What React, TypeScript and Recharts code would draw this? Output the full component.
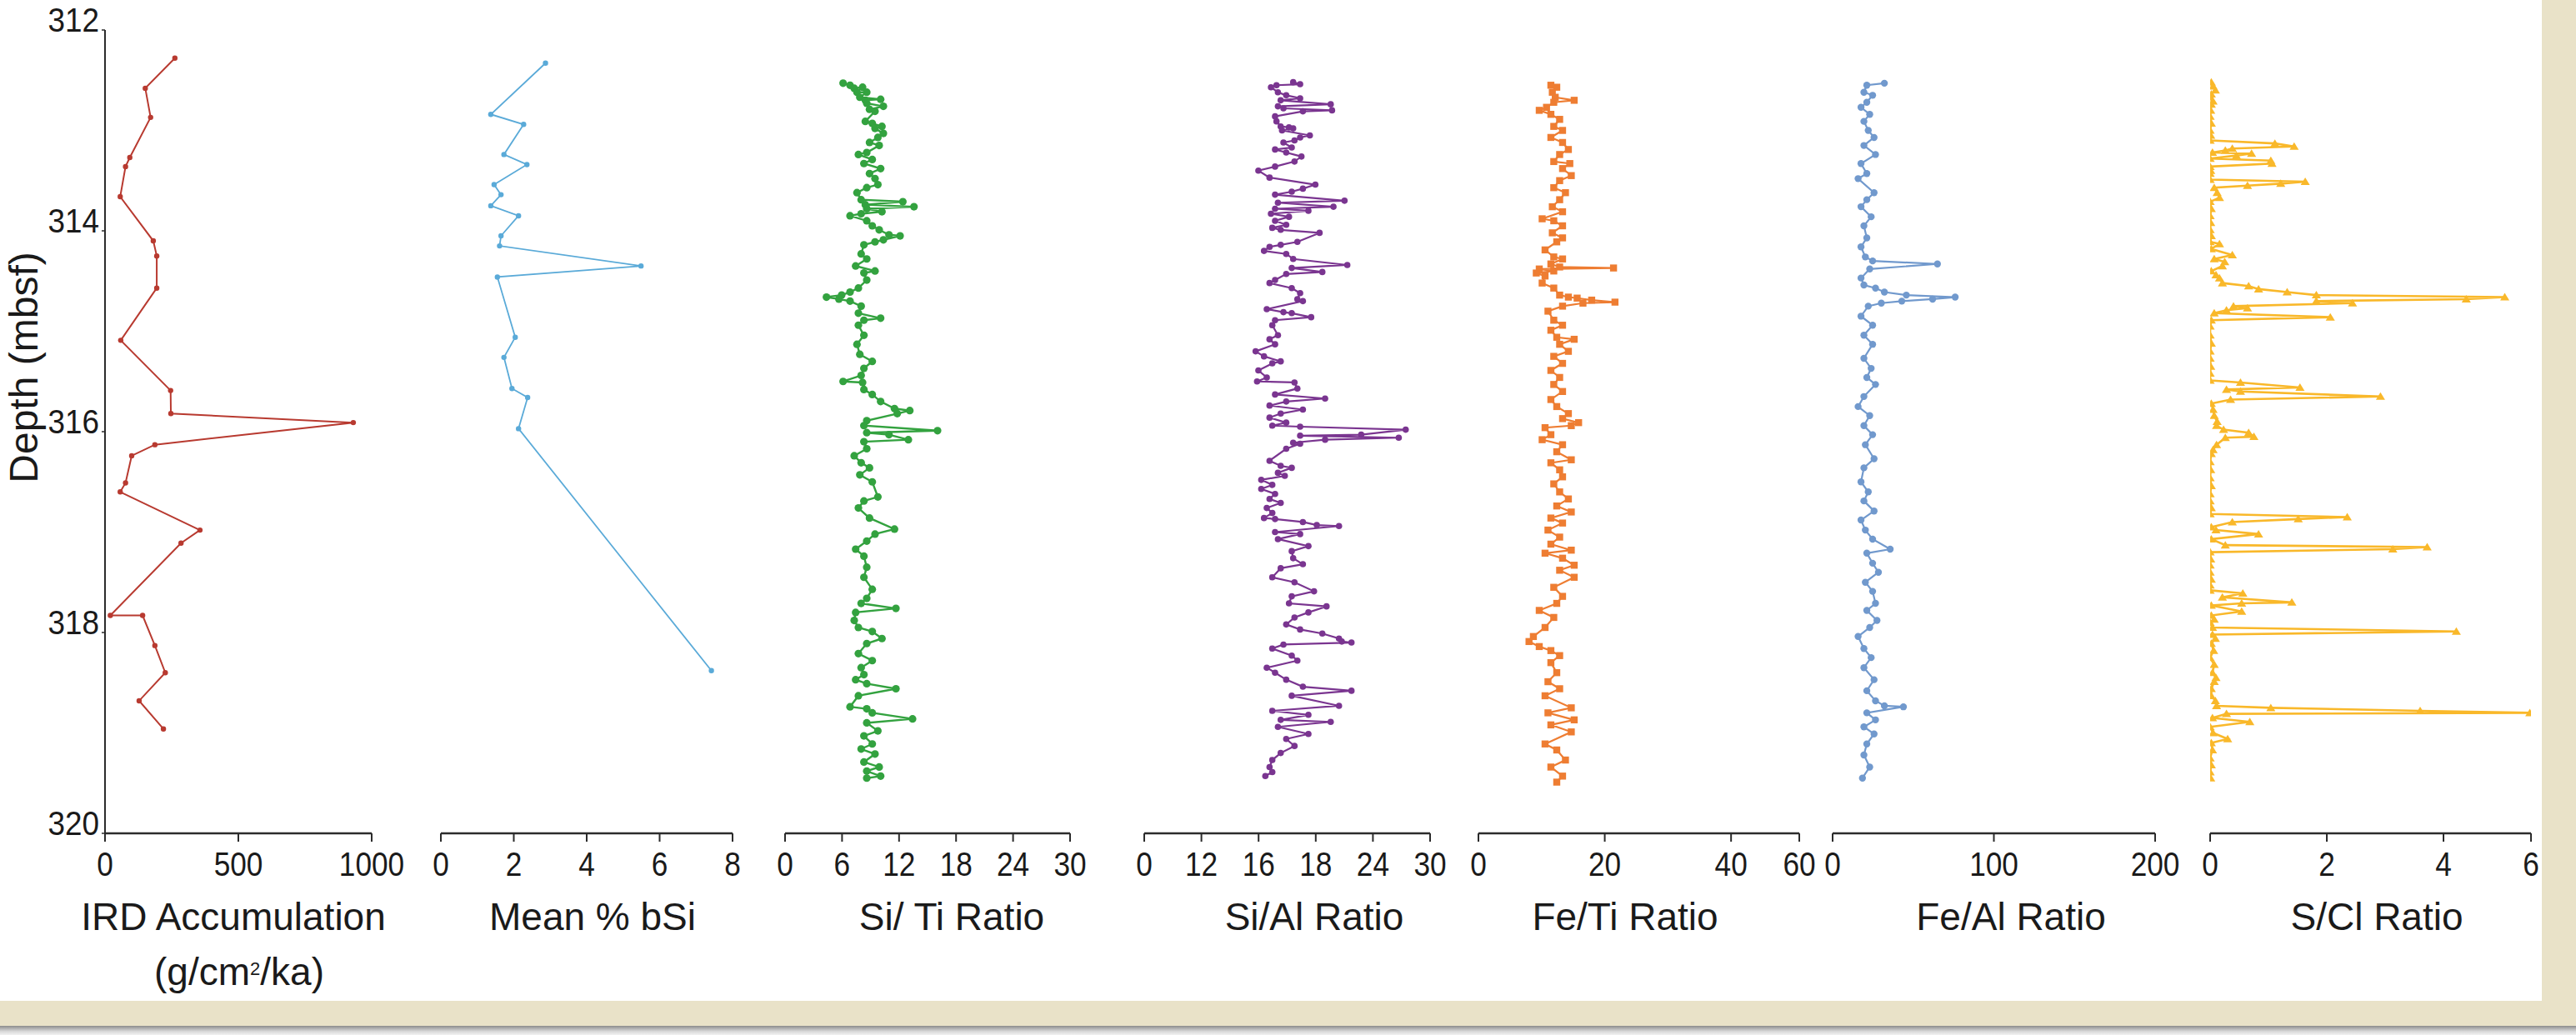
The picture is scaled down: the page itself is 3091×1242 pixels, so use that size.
import React from 'react';
import { ScatterChart, Scatter, XAxis, YAxis } from 'recharts';

// depth axis (mbsf), drawn top to bottom
const depthDomain = [312, 320];
const depthTicks = [312, 314, 316, 318, 320];

// [depth, value] pairs
const ird: [number, number][] = [
  [312.28, 262], [312.58, 151], [312.87, 171], [313.27, 93], [313.36, 77], [313.66, 57],
  [314.1, 181], [314.25, 194], [314.57, 194], [315.09, 59], [315.59, 246], [315.82, 247],
  [315.91, 931], [316.13, 187], [316.24, 100], [316.51, 77], [316.6, 57], [316.98, 356],
  [317.11, 285], [317.83, 20], [317.83, 141], [318.13, 187], [318.4, 226], [318.68, 128],
  [318.96, 219],
];

const bsi: [number, number][] = [
  [312.33, 2.87], [312.84, 1.37], [312.94, 2.27], [313.24, 1.73], [313.34, 2.36], [313.54, 1.46],
  [313.64, 1.65], [313.75, 1.37], [313.85, 2.13], [314.05, 1.65], [314.15, 1.61], [314.35, 5.49],
  [314.46, 1.55], [315.06, 2.04], [315.26, 1.73], [315.57, 1.95], [315.66, 2.38], [315.97, 2.13],
  [318.38, 7.42],
];

const siTi: [number, number][] = [
  [312.53, 6.11], [312.55, 6.84], [312.58, 7.28], [312.57, 8.16], [312.62, 7.57], [312.62, 8.6],
  [312.67, 7.87], [312.69, 10.06], [312.7, 8.45], [312.73, 8.6], [312.76, 10.35], [312.79, 8.89],
  [312.81, 9.47], [312.91, 8.45], [312.93, 9.18], [312.96, 10.2], [312.98, 9.47], [313.03, 10.35],
  [313.07, 9.77], [313.12, 8.89], [313.15, 9.91], [313.22, 8.6], [313.24, 7.72], [313.29, 9.18],
  [313.33, 8.3], [313.38, 10.06], [313.43, 8.89], [313.48, 9.47], [313.54, 9.77], [313.57, 8.6],
  [313.62, 7.57], [313.69, 8.01], [313.71, 12.4], [313.74, 8.45], [313.76, 13.57], [313.78, 8.6],
  [313.81, 10.2], [313.83, 8.01], [313.85, 6.84], [313.9, 8.6], [313.95, 9.18], [313.99, 9.91],
  [314.04, 10.94], [314.05, 12.11], [314.09, 10.35], [314.11, 9.47], [314.14, 8.3], [314.23, 8.01],
  [314.28, 8.6], [314.35, 7.43], [314.4, 9.47], [314.42, 8.3], [314.49, 8.6], [314.57, 7.72],
  [314.61, 6.84], [314.64, 5.96], [314.66, 4.36], [314.68, 5.67], [314.7, 6.84], [314.75, 8.01],
  [314.82, 7.72], [314.87, 10.06], [314.89, 8.3], [314.94, 7.72], [315.04, 8.3], [315.13, 7.57],
  [315.23, 7.87], [315.3, 9.18], [315.37, 8.3], [315.44, 8.01], [315.5, 6.11], [315.51, 8.16],
  [315.58, 8.3], [315.63, 9.18], [315.7, 10.06], [315.77, 11.52], [315.79, 13.13], [315.82, 11.81],
  [315.89, 8.6], [315.94, 8.3], [315.99, 16.05], [316.01, 8.6], [316.03, 10.94], [316.08, 12.98],
  [316.1, 8.3], [316.17, 8.6], [316.24, 7.28], [316.31, 8.01], [316.36, 8.89], [316.43, 7.87],
  [316.5, 9.18], [316.65, 9.77], [316.69, 8.3], [316.76, 7.72], [316.86, 8.89], [316.97, 11.52],
  [317.02, 9.47], [317.09, 8.6], [317.17, 7.43], [317.24, 8.3], [317.35, 8.6], [317.45, 8.3],
  [317.57, 9.18], [317.66, 8.6], [317.71, 8.01], [317.76, 11.67], [317.8, 7.43], [317.88, 7.28],
  [317.95, 7.72], [317.99, 9.18], [318.06, 10.2], [318.11, 8.6], [318.21, 7.72], [318.28, 9.18],
  [318.35, 8.01], [318.42, 8.3], [318.47, 7.43], [318.51, 8.6], [318.56, 11.67], [318.63, 7.72],
  [318.74, 6.84], [318.76, 8.6], [318.8, 9.18], [318.86, 13.42], [318.9, 8.6], [318.98, 9.77],
  [319.03, 8.3], [319.11, 9.18], [319.16, 8.01], [319.21, 9.47], [319.29, 8.3], [319.34, 9.91],
  [319.38, 8.6], [319.43, 10.06], [319.45, 8.6],
];

const siAl: [number, number][] = [
  [312.52, 15.63], [312.54, 16.36], [312.55, 13.88], [312.57, 13.3], [312.62, 14.03], [312.65, 14.9],
  [312.68, 16.36], [312.7, 14.32], [312.74, 19.57], [312.76, 14.03], [312.78, 14.61], [312.8, 19.71],
  [312.81, 16.65], [312.86, 13.73], [312.91, 13.88], [312.96, 14.32], [312.97, 15.19], [312.98, 15.63],
  [313.0, 14.46], [313.05, 17.38], [313.07, 16.36], [313.1, 15.77], [313.12, 14.61], [313.17, 15.48],
  [313.19, 13.73], [313.22, 14.9], [313.26, 16.5], [313.31, 15.77], [313.36, 13.73], [313.4, 11.98],
  [313.47, 13.15], [313.54, 17.96], [313.58, 16.65], [313.61, 15.48], [313.64, 13.73], [313.7, 21.02],
  [313.72, 14.03], [313.76, 19.86], [313.78, 13.73], [313.8, 17.23], [313.83, 13.3], [313.86, 15.19],
  [313.9, 13.73], [313.94, 14.9], [313.97, 13.44], [313.99, 14.32], [314.02, 18.4], [314.11, 16.07],
  [314.14, 14.32], [314.16, 13.15], [314.2, 12.57], [314.23, 14.9], [314.28, 15.63], [314.34, 21.31],
  [314.37, 15.48], [314.41, 18.69], [314.43, 14.9], [314.49, 13.73], [314.52, 13.15], [314.57, 15.48],
  [314.62, 16.36], [314.68, 16.07], [314.7, 16.65], [314.78, 12.86], [314.81, 14.61], [314.82, 15.48],
  [314.86, 17.52], [314.89, 13.73], [314.94, 13.44], [315.04, 14.03], [315.08, 13.15], [315.13, 13.73],
  [315.2, 11.69], [315.25, 12.57], [315.3, 14.32], [315.32, 13.44], [315.39, 11.98], [315.46, 12.86],
  [315.5, 11.84], [315.51, 15.77], [315.57, 16.07], [315.63, 13.73], [315.67, 18.98], [315.7, 14.9],
  [315.74, 13.15], [315.78, 16.65], [315.82, 14.32], [315.86, 13.15], [315.91, 14.9], [315.94, 13.44],
  [315.95, 16.36], [315.98, 27.44], [316.03, 22.77], [316.04, 16.36], [316.06, 26.71], [316.08, 18.98],
  [316.11, 15.63], [316.12, 16.36], [316.17, 14.9], [316.29, 13.15], [316.34, 14.32], [316.36, 15.48],
  [316.41, 14.03], [316.44, 14.75], [316.48, 12.28], [316.53, 13.44], [316.57, 12.28], [316.62, 13.73],
  [316.67, 13.15], [316.71, 14.32], [316.76, 12.86], [316.81, 13.44], [316.86, 12.57], [316.87, 13.73],
  [316.9, 16.65], [316.93, 18.11], [316.94, 20.44], [317.0, 13.73], [317.02, 16.36], [317.07, 14.03],
  [317.14, 17.23], [317.19, 15.48], [317.26, 15.63], [317.32, 16.65], [317.36, 14.32], [317.45, 13.44],
  [317.5, 15.77], [317.59, 17.82], [317.64, 15.48], [317.71, 15.19], [317.74, 19.13], [317.8, 17.23],
  [317.85, 15.77], [317.92, 14.9], [317.97, 16.36], [318.01, 18.69], [318.06, 20.44], [318.09, 20.73],
  [318.1, 21.75], [318.12, 14.61], [318.16, 13.44], [318.23, 15.48], [318.28, 16.07], [318.35, 12.86],
  [318.4, 13.73], [318.47, 14.9], [318.54, 16.65], [318.58, 21.75], [318.63, 15.48], [318.73, 20.44],
  [318.78, 13.44], [318.82, 17.23], [318.87, 14.32], [318.89, 19.57], [318.94, 14.03], [319.01, 17.23],
  [319.06, 14.9], [319.13, 15.77], [319.2, 14.32], [319.27, 13.44], [319.34, 13.15], [319.39, 13.44],
  [319.43, 12.71],
];

const feTi: [number, number][] = [
  [312.55, 11.47], [312.57, 12.4], [312.62, 11.7], [312.67, 12.16], [312.7, 15.16], [312.72, 11.93],
  [312.77, 10.78], [312.8, 9.63], [312.84, 11.47], [312.89, 12.86], [312.96, 11.93], [313.0, 13.32],
  [313.07, 11.47], [313.12, 13.32], [313.19, 14.24], [313.24, 12.86], [313.31, 11.93], [313.33, 14.47],
  [313.38, 13.32], [313.45, 14.7], [313.5, 12.86], [313.57, 11.93], [313.62, 13.78], [313.69, 12.86],
  [313.76, 11.7], [313.81, 13.32], [313.88, 10.09], [313.9, 11.93], [313.95, 13.32], [314.02, 11.7],
  [314.07, 13.32], [314.11, 12.4], [314.19, 10.55], [314.26, 11.93], [314.28, 13.32], [314.33, 11.47],
  [314.36, 12.86], [314.37, 21.39], [314.38, 9.63], [314.4, 11.93], [314.42, 9.16], [314.45, 10.55],
  [314.52, 10.09], [314.57, 11.93], [314.64, 12.86], [314.66, 14.24], [314.67, 15.63], [314.69, 17.93],
  [314.71, 21.62], [314.72, 16.55], [314.75, 13.32], [314.8, 11.01], [314.89, 11.93], [314.94, 13.32],
  [314.99, 11.47], [315.06, 12.4], [315.08, 15.16], [315.13, 12.86], [315.2, 14.24], [315.25, 11.93],
  [315.32, 13.32], [315.39, 11.47], [315.46, 12.86], [315.53, 11.93], [315.6, 13.32], [315.68, 11.47],
  [315.75, 12.4], [315.82, 14.24], [315.87, 13.32], [315.91, 15.86], [315.94, 14.7], [315.96, 10.55],
  [316.03, 11.47], [316.08, 10.09], [316.13, 13.32], [316.2, 12.4], [316.28, 14.7], [316.31, 11.47],
  [316.38, 12.86], [316.45, 13.32], [316.52, 11.93], [316.6, 12.86], [316.67, 14.24], [316.74, 12.4],
  [316.8, 14.7], [316.86, 11.47], [316.91, 13.32], [316.98, 11.01], [317.05, 12.86], [317.12, 11.47],
  [317.18, 14.7], [317.21, 10.55], [317.26, 13.32], [317.33, 15.16], [317.38, 12.86], [317.45, 15.16],
  [317.55, 11.93], [317.64, 13.32], [317.71, 12.4], [317.78, 9.63], [317.85, 11.93], [317.95, 10.55],
  [318.04, 8.7], [318.09, 8.01], [318.14, 9.63], [318.18, 11.47], [318.23, 12.86], [318.3, 11.47],
  [318.4, 12.4], [318.49, 11.01], [318.56, 12.86], [318.63, 10.55], [318.75, 14.7], [318.8, 11.01],
  [318.87, 15.16], [318.92, 11.47], [318.99, 14.7], [319.11, 10.55], [319.17, 12.4], [319.27, 13.78],
  [319.34, 11.47], [319.43, 13.32], [319.49, 12.4],
];

const feAl: [number, number][] = [
  [312.53, 32.1], [312.55, 21.2], [312.62, 19.4], [312.65, 24.8], [312.72, 21.2], [312.77, 17.6],
  [312.84, 23.0], [312.91, 19.4], [313.0, 22.1], [313.07, 25.7], [313.15, 19.4], [313.24, 26.6],
  [313.33, 17.6], [313.43, 21.2], [313.48, 15.8], [313.62, 25.7], [313.69, 21.2], [313.76, 17.6],
  [313.86, 23.9], [313.95, 19.4], [314.07, 21.2], [314.16, 17.6], [314.26, 20.3], [314.3, 24.8],
  [314.33, 65], [314.38, 23.0], [314.47, 17.6], [314.54, 19.4], [314.57, 26.6], [314.61, 32.1],
  [314.64, 45.7], [314.66, 76], [314.68, 62], [314.7, 42.9], [314.72, 30.2], [314.75, 22.1],
  [314.85, 17.6], [314.94, 24.8], [315.04, 19.4], [315.13, 24.8], [315.27, 19.4], [315.37, 23.9],
  [315.46, 21.2], [315.53, 26.6], [315.65, 19.4], [315.75, 15.8], [315.84, 23.0], [315.94, 19.4],
  [316.03, 24.8], [316.13, 20.3], [316.27, 25.7], [316.36, 19.4], [316.5, 17.6], [316.6, 22.1],
  [316.69, 19.4], [316.79, 25.7], [316.88, 17.6], [316.98, 20.3], [317.07, 24.8], [317.17, 35.7],
  [317.21, 21.2], [317.31, 24.8], [317.4, 28.4], [317.5, 20.3], [317.59, 24.8], [317.71, 26.6],
  [317.78, 21.2], [317.88, 27.5], [317.95, 23.0], [318.04, 15.8], [318.16, 19.4], [318.25, 23.9],
  [318.35, 19.4], [318.47, 25.7], [318.58, 21.2], [318.68, 26.6], [318.73, 32.1], [318.74, 43.9],
  [318.8, 21.2], [318.87, 26.6], [318.94, 19.4], [319.01, 25.7], [319.11, 21.2], [319.22, 19.4],
  [319.34, 23.0], [319.45, 18.5],
];

const sCl: [number, number][] = [
  [312.52, 0.02], [312.56, 0.05], [312.6, 0.09], [312.64, 0.02], [312.67, 0.0], [312.71, 0.05],
  [312.74, 0.02], [312.8, 0.01], [312.86, 0.0], [312.93, 0.02], [313.0, 0.0], [313.05, 0.01],
  [313.1, 0.0], [313.13, 1.11], [313.16, 1.44], [313.18, 0.38], [313.2, 0.26], [313.22, 0.04],
  [313.23, 0.71], [313.25, 0.45], [313.28, 0.0], [313.3, 1.04], [313.33, 1.06], [313.36, 0.0],
  [313.4, 0.01], [313.43, 0.0], [313.49, 0.0], [313.51, 1.63], [313.53, 1.21], [313.55, 0.64],
  [313.57, 0.07], [313.62, 0.12], [313.67, 0.16], [313.71, 0.0], [313.78, 0.02], [313.85, 0.0],
  [313.92, 0.01], [313.99, 0.0], [314.05, 0.02], [314.11, 0.0], [314.13, 0.16], [314.18, 0.02],
  [314.24, 0.38], [314.28, 0.07], [314.31, 0.25], [314.35, 0.21], [314.4, 0.02], [314.44, 0.1],
  [314.47, 0.16], [314.52, 0.21], [314.55, 0.66], [314.58, 0.83], [314.61, 1.32], [314.64, 1.82],
  [314.66, 5.05], [314.68, 4.39], [314.7, 1.82], [314.72, 2.44], [314.75, 0.4], [314.77, 0.64],
  [314.79, 0.28], [314.82, 0.07], [314.86, 2.06], [314.89, 0.02], [314.95, 0.0], [315.04, 0.0],
  [315.12, 0.02], [315.2, 0.0], [315.27, 0.0], [315.35, 0.01], [315.42, 0.0], [315.49, 0.0],
  [315.51, 0.52], [315.56, 1.54], [315.58, 0.28], [315.6, 0.52], [315.65, 2.92], [315.68, 0.35],
  [315.72, 0.02], [315.78, 0.05], [315.84, 0.07], [315.9, 0.12], [315.94, 0.11], [315.98, 0.23],
  [316.01, 0.66], [316.05, 0.75], [316.06, 0.26], [316.13, 0.11], [316.18, 0.05], [316.22, 0.02],
  [316.3, 0.0], [316.38, 0.01], [316.46, 0.0], [316.54, 0.02], [316.62, 0.0], [316.69, 0.0],
  [316.76, 0.02], [316.82, 0.0], [316.85, 2.35], [316.87, 1.51], [316.9, 0.38], [316.95, 0.02],
  [316.98, 0.1], [317.02, 0.83], [317.07, 0.02], [317.13, 0.26], [317.15, 3.72], [317.17, 3.13],
  [317.2, 0.0], [317.27, 0.01], [317.33, 0.0], [317.4, 0.0], [317.47, 0.02], [317.53, 0.0],
  [317.58, 0.0], [317.61, 0.56], [317.65, 0.21], [317.7, 1.4], [317.71, 0.54], [317.73, 0.02],
  [317.79, 0.54], [317.83, 0.02], [317.87, 0.07], [317.9, 0.0], [317.95, 0.04], [317.99, 4.22],
  [318.02, 0.04], [318.06, 0.09], [318.11, 0.02], [318.18, 0.06], [318.25, 0.0], [318.32, 0.07],
  [318.4, 0.04], [318.45, 0.1], [318.49, 0.07], [318.56, 0.02], [318.63, 0.02], [318.68, 0.09],
  [318.73, 0.11], [318.75, 1.04], [318.78, 3.6], [318.8, 5.48], [318.81, 0.28], [318.85, 0.04],
  [318.89, 0.68], [318.94, 0.0], [319.0, 0.05], [319.06, 0.3], [319.1, 0.02], [319.17, 0.04],
  [319.25, 0.0], [319.32, 0.02], [319.39, 0.0], [319.45, 0.01],
];

// x-axis ticks and the labels printed under them
const irdTicks = [0, 500, 1000];
const bsiTicks = [0, 2, 4, 6, 8];
const siTiTicks = [0, 6, 12, 18, 24, 30];
const siAlTicks = [0, 6, 12, 18, 24, 30];
const siAlLabels = ['0', '12', '16', '18', '24', '30'];
const feTiTicks = [0, 20, 40, 50.8];
const feTiLabels = ['0', '20', '40', '60'];
const feAlTicks = [0, 100, 200];
const sClTicks = [0, 2, 4, 5.5];
const sClLabels = ['0', '2', '4', '6'];

const W = 3091;
const H = 1242;
const PLOT_TOP = 36;
const PLOT_BOTTOM = 1000;
const X_AXIS_H = 60;
const PAD = 50;
const FONT = '"Liberation Sans", Arial, Helvetica, sans-serif';
const AXIS = '#2b2b2b';

type Marker = 'circle' | 'square' | 'triangle';

interface PanelCfg {
  key: string;
  data: [number, number][];
  color: string;
  marker: Marker;
  size: number;
  lineWidth: number;
  x0: number;
  x1: number;
  domain: [number, number];
  ticks: number[];
  labels?: string[];
  showY?: boolean;
  titleX: number;
  title: string;
}

const panels: PanelCfg[] = [
  { key: 'ird', data: ird, color: '#B83A30', marker: 'circle', size: 3.2, lineWidth: 2, x0: 126, x1: 446, domain: [0, 1000], ticks: irdTicks, showY: true, titleX: 280, title: 'IRD Accumulation' },
  { key: 'bsi', data: bsi, color: '#5AAAD8', marker: 'circle', size: 3.2, lineWidth: 1.8, x0: 529, x1: 879, domain: [0, 8], ticks: bsiTicks, titleX: 711, title: 'Mean % bSi' },
  { key: 'siti', data: siTi, color: '#33A23F', marker: 'circle', size: 4.6, lineWidth: 2.4, x0: 942, x1: 1284, domain: [0, 30], ticks: siTiTicks, titleX: 1142, title: 'Si/ Ti Ratio' },
  { key: 'sial', data: siAl, color: '#7A3590', marker: 'circle', size: 3.8, lineWidth: 2.2, x0: 1373, x1: 1716, domain: [0, 30], ticks: siAlTicks, labels: siAlLabels, titleX: 1577, title: 'Si/Al Ratio' },
  { key: 'feti', data: feTi, color: '#EE7D32', marker: 'square', size: 4.2, lineWidth: 2.2, x0: 1774, x1: 2159, domain: [0, 50.8], ticks: feTiTicks, labels: feTiLabels, titleX: 1950, title: 'Fe/Ti Ratio' },
  { key: 'feal', data: feAl, color: '#7199CD', marker: 'circle', size: 4.2, lineWidth: 2.2, x0: 2199, x1: 2586, domain: [0, 200], ticks: feAlTicks, titleX: 2413, title: 'Fe/Al Ratio' },
  { key: 'scl', data: sCl, color: '#F9B82A', marker: 'triangle', size: 5, lineWidth: 2.6, x0: 2652, x1: 3037, domain: [0, 5.5], ticks: sClTicks, labels: sClLabels, titleX: 2852, title: 'S/Cl Ratio' },
];

const markerShape = (color: string, kind: Marker, r: number) => (p: any) => {
  const { cx, cy } = p;
  if (cx == null || cy == null) return <g />;
  if (kind === 'square') {
    return <rect x={cx - r} y={cy - r} width={2 * r} height={2 * r} fill={color} />;
  }
  if (kind === 'triangle') {
    return (
      <polygon
        points={`${cx},${cy - r} ${cx + r * 1.1},${cy + r * 0.8} ${cx - r * 1.1},${cy + r * 0.8}`}
        fill={color}
      />
    );
  }
  return <circle cx={cx} cy={cy} r={r} fill={color} />;
};

function XTick(props: any) {
  const { x, y, payload, ticks, labels } = props;
  const i = ticks.indexOf(payload.value);
  const label = labels && i >= 0 ? labels[i] : String(payload.value);
  return (
    <text
      x={0}
      y={0}
      transform={`translate(${x},${y + 39}) scale(0.88,1)`}
      textAnchor="middle"
      fontSize={40}
      fontFamily={FONT}
      fill="#1a1a1a"
    >
      {label}
    </text>
  );
}

function YTick(props: any) {
  const { x, y, payload } = props;
  return (
    <text
      x={0}
      y={0}
      transform={`translate(${x - 1},${y + 2}) scale(0.9,1)`}
      textAnchor="end"
      fontSize={41}
      fontFamily={FONT}
      fill="#1a1a1a"
    >
      {payload.value}
    </text>
  );
}

function Panel({ cfg }: { cfg: PanelCfg }) {
  const rows = cfg.data.map(([d, v]) => ({ d, v }));
  const left = cfg.showY ? 0 : cfg.x0 - PAD;
  const padL = cfg.showY ? 0 : PAD;
  const width = cfg.x1 - left + PAD;
  return (
    <div style={{ position: 'absolute', left, top: 0 }}>
      <ScatterChart
        width={width}
        height={H}
        margin={{ top: PLOT_TOP, right: PAD, bottom: H - PLOT_BOTTOM - X_AXIS_H, left: padL }}
      >
        <XAxis
          type="number"
          dataKey="v"
          domain={cfg.domain}
          ticks={cfg.ticks}
          interval={0}
          allowDataOverflow
          height={X_AXIS_H}
          tickSize={10}
          axisLine={{ stroke: AXIS, strokeWidth: 2.5 }}
          tickLine={{ stroke: AXIS, strokeWidth: 2 }}
          tick={(p: any) => <XTick {...p} ticks={cfg.ticks} labels={cfg.labels} />}
        />
        <YAxis
          type="number"
          dataKey="d"
          domain={depthDomain}
          ticks={depthTicks}
          reversed
          allowDataOverflow
          hide={!cfg.showY}
          width={cfg.showY ? cfg.x0 : 0}
          tickSize={4}
          axisLine={{ stroke: AXIS, strokeWidth: 2 }}
          tickLine={{ stroke: AXIS, strokeWidth: 1.5 }}
          tick={(p: any) => <YTick {...p} />}
        />
        <Scatter
          data={rows}
          fill={cfg.color}
          line={{ stroke: cfg.color, strokeWidth: cfg.lineWidth }}
          lineJointType="linear"
          shape={markerShape(cfg.color, cfg.marker, cfg.size)}
          isAnimationActive={false}
        />
      </ScatterChart>
    </div>
  );
}

export default function App() {
  return (
    <div style={{ position: 'absolute', left: 0, top: 0, width: W, height: H, background: '#ffffff', overflow: 'hidden' }}>
      {panels.map((p) => (
        <Panel key={p.key} cfg={p} />
      ))}
      <svg width={W} height={H} style={{ position: 'absolute', left: 0, top: 0, pointerEvents: 'none' }}>
        <text
          transform="translate(45,441) rotate(-90)"
          textAnchor="middle"
          fontSize={48}
          fontFamily={FONT}
          fill="#1a1a1a"
        >
          Depth (mbsf)
        </text>
        {panels.map((p) => (
          <text key={p.key} x={p.titleX} y={1116} textAnchor="middle" fontSize={46} fontFamily={FONT} fill="#1a1a1a">
            {p.title}
          </text>
        ))}
        <text x={287} y={1182} textAnchor="middle" fontSize={46} fontFamily={FONT} fill="#1a1a1a">
          (g/cm
          <tspan fontSize={22} dy={-12}>2</tspan>
          <tspan dy={12}>/ka)</tspan>
        </text>
      </svg>
      <div style={{ position: 'absolute', left: 3050, top: 0, width: W - 3050, height: H, background: '#E9E2C8' }} />
      <div style={{ position: 'absolute', left: 0, top: 1201, width: W, height: 30, background: '#E9E2C8' }} />
      <div style={{ position: 'absolute', left: 0, top: 1231, width: W, height: H - 1231, background: 'linear-gradient(#8c8c8c, #d8d8d8 60%, #f2f2f2)' }} />
    </div>
  );
}
